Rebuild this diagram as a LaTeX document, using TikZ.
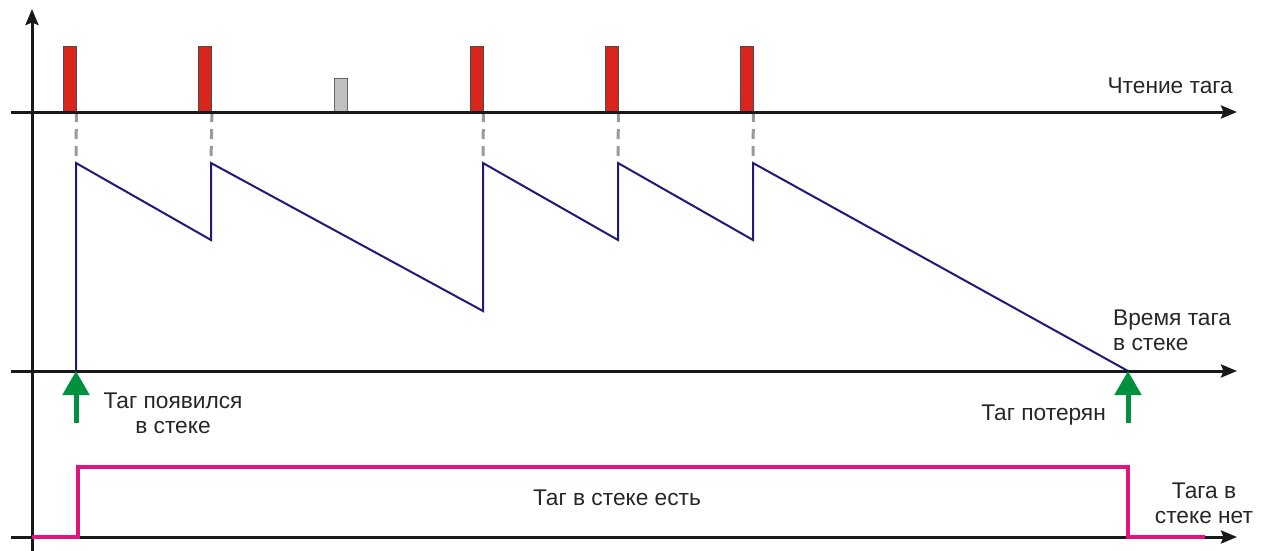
\documentclass[tikz,border=0pt]{standalone}
\usepackage{fontspec}
\setmainfont{Liberation Sans}
\usetikzlibrary{arrows.meta}
\definecolor{barred}{HTML}{D9261C}
\definecolor{bargrey}{HTML}{C0C0C0}
\definecolor{sawblue}{HTML}{1F1A7A}
\definecolor{arrgreen}{HTML}{00913F}
\definecolor{pinkline}{HTML}{E0147F}
\definecolor{dashgrey}{HTML}{9A9A9A}
\tikzset{
  axis/.style={line width=3pt, draw=black!90, -{Stealth[length=16pt,width=13pt,inset=2.5pt]}},
  redbar/.style={draw=black!70, line width=0.8pt, fill=barred, minimum width=13pt, minimum height=65pt, inner sep=0pt, anchor=south},
  greybar/.style={draw=black!60, line width=0.8pt, fill=bargrey, minimum width=13pt, minimum height=33pt, inner sep=0pt, anchor=south},
  guide/.style={draw=dashgrey, line width=3pt, dash pattern=on 10pt off 7pt},
  saw/.style={draw=sawblue, line width=2pt, line join=miter},
  event/.style={draw=arrgreen, line width=5pt, -{Triangle[length=24pt,width=26pt]}},
  state/.style={draw=pinkline, line width=4pt, line join=miter},
  lbl/.style={font=\fontsize{22.7}{24.5}\selectfont, text=black!85, inner sep=0pt, align=center}
}
\begin{document}
\begin{tikzpicture}[x=1pt,y=-1pt]
\useasboundingbox (0,0) rectangle (1267,551);
% axes
\coordinate (vaxB) at (32,551);
\coordinate (vaxT) at (32,9);
\coordinate (a1L) at (11,112); \coordinate (a1R) at (1237,112);
\coordinate (a2L) at (11,371); \coordinate (a2R) at (1237,371);
\coordinate (a3L) at (11,537); \coordinate (a3R) at (1237,537);
% bars
\node[redbar] (b1) at (69.5,112) {};
\node[redbar] (b2) at (205,112) {};
\node[greybar] (g1) at (340.5,112) {};
\node[redbar] (b3) at (476.5,112) {};
\node[redbar] (b4) at (611.5,112) {};
\node[redbar] (b5) at (746.5,112) {};
% sawtooth points
\coordinate (s0) at (76,371);
\coordinate (p1) at (76,163); \coordinate (q1) at (211,240);
\coordinate (p2) at (211,163); \coordinate (q2) at (483,311);
\coordinate (p3) at (483,163); \coordinate (q3) at (618,240);
\coordinate (p4) at (618,163); \coordinate (q4) at (753,240);
\coordinate (p5) at (753,163); \coordinate (s1) at (1128,371);
% dashed guides
\draw[guide] (b1.south east) -- (p1);
\draw[guide] (b2.south east) -- (p2);
\draw[guide] (b3.south east) -- (p3);
\draw[guide] (b4.south east) -- (p4);
\draw[guide] (b5.south east) -- (p5);
% sawtooth
\draw[saw] (s0) -- (p1) -- (q1) -- (p2) -- (q2) -- (p3) -- (q3) -- (p4) -- (q4) -- (p5) -- (s1);
% axes
\draw[axis] (vaxB) -- (vaxT);
\draw[axis] (a1L) -- (a1R);
\draw[axis] (a2L) -- (a2R);
\draw[axis] (a3L) -- (a3R);
% state line
\coordinate (m0) at (32,537); \coordinate (m1) at (78,537); \coordinate (m2) at (78,467);
\coordinate (m3) at (1128,467); \coordinate (m4) at (1128,537); \coordinate (m5) at (1205,537);
\draw[state] (m0) -- (m1) -- (m2) -- (m3) -- (m4) -- (m5);
% events
\coordinate (e1a) at (76,423); \coordinate (e1b) at (76,371);
\coordinate (e2a) at (1128,423); \coordinate (e2b) at (1128,371);
\draw[event] (e1a) -- (e1b);
\draw[event] (e2a) -- (e2b);
% labels
\node[lbl, anchor=base east] (t1) at (1233,93) {Чтение тага};
\node[lbl, anchor=base west, align=left] (t2) at (1113,350) {Время тага\\в стеке};
\node[lbl, anchor=base] (t3) at (173,433) {Таг появился\\в стеке};
\node[lbl, anchor=base east] (t4) at (1106,420) {Таг потерян};
\node[lbl, anchor=base] (t5) at (617,505) {Таг в стеке есть};
\node[lbl, anchor=base] (t6) at (1204,523) {Тага в\\стеке нет};
\end{tikzpicture}
\end{document}
